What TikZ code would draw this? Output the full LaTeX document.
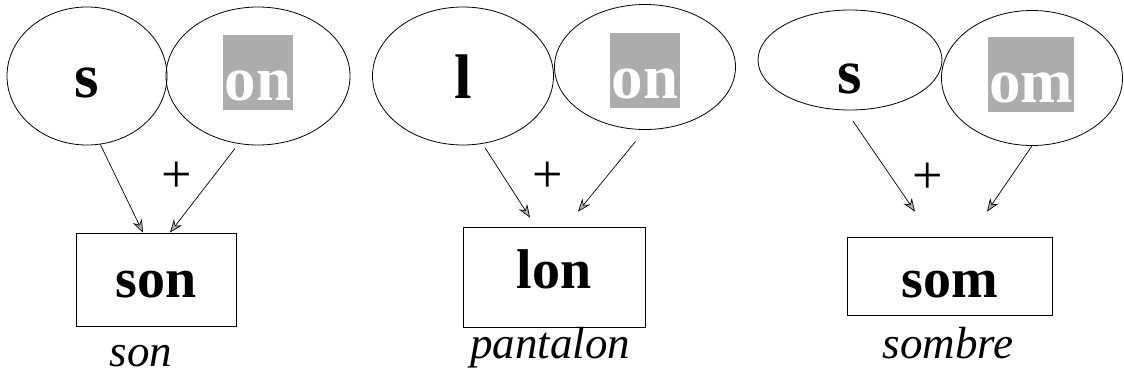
\documentclass[tikz,border=0pt]{standalone}
\usepackage{fontspec}
\setmainfont{Liberation Serif}
\usetikzlibrary{shapes.geometric,arrows.meta}
\begin{document}
\begin{tikzpicture}[x=1pt, y=-1pt,
  part/.style={draw, ellipse, inner sep=0pt, line width=0.8pt},
  letter/.style={anchor=base, inner sep=0pt, font=\fontsize{63}{65}\selectfont\bfseries},
  nasal/.style={letter, fill=gray!65, text=white, text height=65pt, text depth=10pt, text centered},
  word/.style={draw, rectangle, anchor=base, line width=0.8pt, inner sep=0pt, font=\fontsize{56}{58}\selectfont\bfseries},
  gloss/.style={anchor=base, font=\fontsize{45}{47}\selectfont\itshape},
  plus/.style={font=\fontsize{54}{56}\selectfont},
  merge/.style={-{Stealth[length=13pt, width=10pt, fill=gray!60]}, line width=0.7pt}]
\useasboundingbox (0,0) rectangle (1124,378);
% son
\node[part, minimum width=160pt, minimum height=138pt] (s1) at (87,76) {};
\node[part, minimum width=184pt, minimum height=138pt] (on1) at (258,76) {};
\node[letter] (t1) at (87,97) {s};
\node[nasal, text width=70pt] (n1) at (258,100) {on};
\node[word, minimum width=160pt, text height=64pt, text depth=29pt] (son) at (156,297) {son};
\node[plus] (p1) at (177,177) {+};
\node[gloss] (g1) at (141,366) {son};
\draw[merge] (s1.-79) -- ([xshift=-13pt]son.north);
\draw[merge, shorten <=6pt] (on1.-106) -- ([xshift=14pt]son.north);
% pantalon
\node[part, minimum width=181pt, minimum height=138pt] (l2) at (463,76) {};
\node[part, minimum width=181pt, minimum height=125pt] (on2) at (645,67) {};
\node[letter] (t2) at (463,98) {l};
\node[nasal, text width=70pt] (n2) at (645,98) {on};
\node[word, minimum width=182pt, text height=61pt, text depth=39pt] (lon) at (554,288) {lon};
\node[plus] (p2) at (548,177) {+};
\node[gloss] (g2) at (550,358) {pantalon};
\draw[merge, shorten <=5pt] (l2.-74) -- ([xshift=-24pt, yshift=9pt]lon.north);
\draw[merge, shorten <=15pt] (on2.south) -- ([xshift=24pt, yshift=15pt]lon.north);
% sombre
\node[part, minimum width=184pt, minimum height=100pt] (s3) at (850,60) {};
\node[part, minimum width=181pt, minimum height=135pt] (om3) at (1032,78) {};
\node[letter] (t3) at (850,93) {s};
\node[nasal, text width=86pt] (n3) at (1031,102) {om};
\node[word, minimum width=205pt, text height=60pt, text depth=18pt] (som) at (950,297) {som};
\node[plus] (p3) at (928,178) {+};
\node[gloss] (g3) at (948,358) {sombre};
\draw[merge, shorten <=13pt] (s3.-95) -- ([xshift=-35pt, yshift=25pt]som.north);
\draw[merge] (om3.south) -- ([xshift=37pt, yshift=25pt]som.north);
\end{tikzpicture}
\end{document}
